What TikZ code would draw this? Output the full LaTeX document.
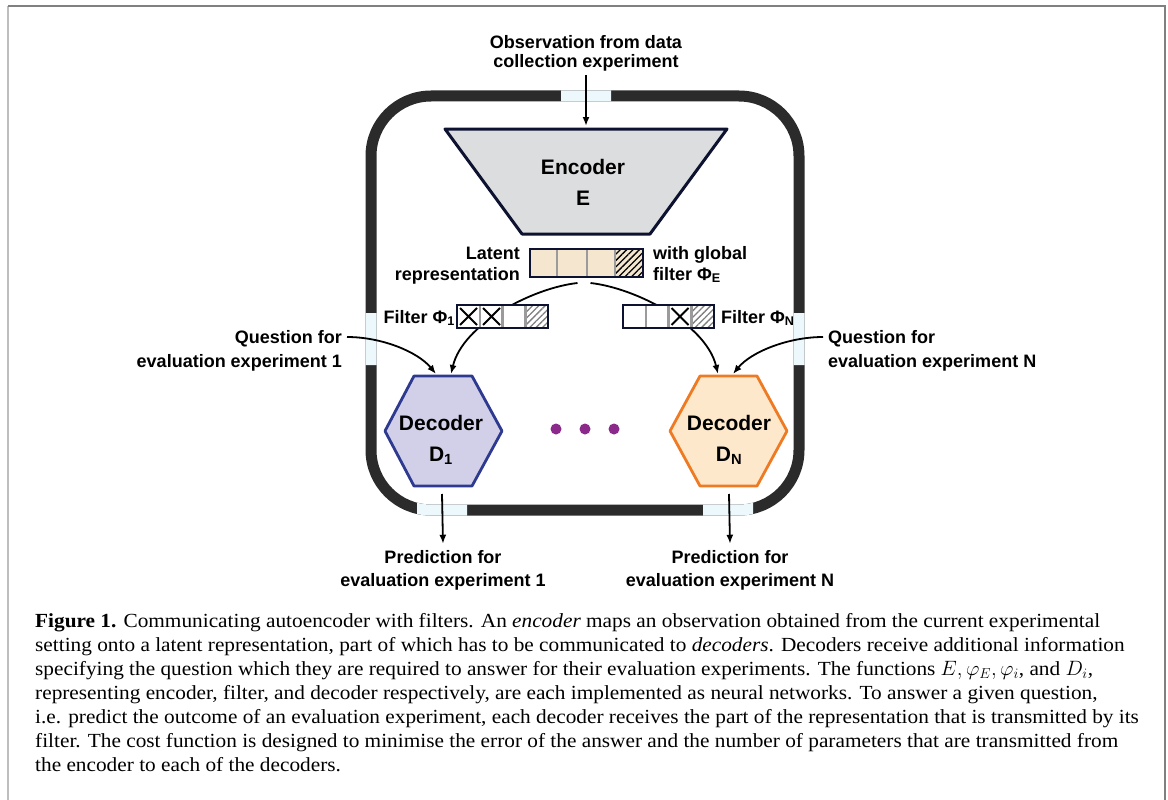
\documentclass[tikz,border=0pt]{standalone}
\usepackage{fontspec}
\setmainfont{Liberation Serif}[FakeStretch=1.065]
\newfontfamily\diafont{Liberation Sans}
\usetikzlibrary{arrows.meta,patterns.meta}

\definecolor{framegray}{RGB}{43,43,43}
\definecolor{gappale}{RGB}{236,248,252}
\definecolor{encfill}{RGB}{220,221,222}
\definecolor{navy}{RGB}{12,18,48}
\definecolor{latfill}{RGB}{245,230,208}
\definecolor{cellsep}{RGB}{155,155,155}
\definecolor{dAfill}{RGB}{209,208,232}
\definecolor{dAline}{RGB}{46,58,143}
\definecolor{dNfill}{RGB}{253,232,203}
\definecolor{dNline}{RGB}{238,123,35}
\definecolor{dotpurple}{RGB}{139,42,139}
\definecolor{pagegray}{RGB}{190,190,190}

\tikzset{
  lbl/.style={font=\diafont\bfseries\fontsize{18}{24}\selectfont, inner sep=0pt},
  big/.style={font=\diafont\bfseries\fontsize{21}{31}\selectfont, inner sep=0pt, align=center},
  arr/.style={-{Latex[length=9pt,width=7pt]}, line width=1.8pt},
  cellline/.style={cellsep, line width=2.5pt},
  cross/.style={line width=2pt, black},
  hatch/.style={pattern={Lines[angle=45,distance=4.5pt,line width=1.3pt]}, pattern color=#1},
  captxt/.style={font=\fontsize{20}{24}\selectfont, inner sep=0pt, anchor=base west},
}

\begin{document}
\begin{tikzpicture}[x=1pt,y=-1pt]
  \useasboundingbox (0,0) rectangle (1168,800);
  % page frame
  \draw[pagegray, line width=1.5pt] (8,800) -- (8,6);
  \draw[gray, line width=1.5pt] (8,6) -- (1165,6) -- (1165,800);

  % outer loop, with pale gaps where arrows cross
  \draw[framegray, line width=11pt, rounded corners=60pt] (371,96) rectangle (799,510);
  \begin{scope}
    \clip (561,80) rectangle (611,112)
          (355,313) rectangle (390,365)
          (785,313) rectangle (815,365)
          (417,480) rectangle (467,525)
          (703,480) rectangle (753,525);
    \draw[gappale, line width=11pt, rounded corners=60pt] (371,96) rectangle (799,510);
  \end{scope}

  % encoder
  \draw[navy, fill=encfill, line width=3pt, line join=round]
    (445,129) -- (727,129) -- (650,234) -- (522,234) -- cycle;
  \node[big, anchor=base] (enc) at (583,205) {Encoder\\E};
  \coordinate (encin) at (586,126);

  \node[lbl, anchor=base, align=center, font=\diafont\bfseries\fontsize{18}{19}\selectfont]
    (obs) at (586,67) {Observation from data\\collection experiment};
  \draw[arr] ([yshift=-4pt]obs.south) -- (encin);

  % latent representation
  \node[fill=latfill, minimum width=113pt, minimum height=28pt, inner sep=0pt, outer sep=0pt]
    (latent) at (586.5,263) {};
  \fill[hatch=black] (615,249) rectangle (643,277);
  \draw[cellline] (557,249) -- (557,277);
  \draw[cellline] (587,249) -- (587,277);
  \draw[cellline] (615,249) -- (615,277);
  \draw[navy, line width=2.5pt] (latent.north west) rectangle (latent.south east);
  \node[lbl, anchor=base east, align=right, font=\diafont\bfseries\fontsize{18}{21}\selectfont]
    (latlbl) at (520,280) {Latent\\representation};
  \node[lbl, anchor=base west, align=left, font=\diafont\bfseries\fontsize{18}{21}\selectfont]
    (glbl) at (653,280) {with global\\filter Φ\textsubscript{E}};

  % decoders
  \draw[dAline, fill=dAfill, line width=2.8pt, line join=round]
    (385,431) -- (414,376) -- (472,376) -- (502,431) -- (472,486) -- (414,486) -- cycle;
  \node[big, anchor=base] (dec1) at (441,461) {Decoder\\D\textsubscript{1}};
  \draw[dNline, fill=dNfill, line width=2.8pt, line join=round]
    (670,431) -- (700,376) -- (757,376) -- (787,431) -- (757,486) -- (700,486) -- cycle;
  \node[big, anchor=base] (decN) at (729,461) {Decoder\\D\textsubscript{N}};
  \coordinate (d1a) at (436,374);
  \coordinate (d1b) at (451,374);
  \coordinate (dNa) at (718,374);
  \coordinate (dNb) at (733,374);
  \coordinate (d1out) at (442,494);
  \coordinate (dNout) at (729,494);

  \fill[dotpurple] (556,429) circle (5.5pt);
  \fill[dotpurple] (585,429) circle (5.5pt);
  \fill[dotpurple] (614,429) circle (5.5pt);

  % questions
  \node[lbl, anchor=base east, align=right] (q1) at (342,367) {Question for\\evaluation experiment 1};
  \node[lbl, anchor=base west, align=left] (qN) at (828,367) {Question for\\evaluation experiment N};
  \draw[arr] ([shift={(5pt,30pt)}]q1.base east) .. controls +(35,0) and +(-18,-22) .. (d1a);
  \draw[arr] ([shift={(-5pt,30pt)}]qN.base west) .. controls +(-35,0) and +(18,-22) .. (dNb);

  % latent to decoders
  \draw[arr] ([xshift=-9pt,yshift=-6pt]latent.south) .. controls +(-45,5) and +(12,-50) .. (d1b);
  \draw[arr] ([xshift=4pt,yshift=-6pt]latent.south) .. controls +(45,5) and +(-12,-50) .. (dNa);

  % filters
  \node[fill=white, minimum width=91pt, minimum height=23pt, inner sep=0pt, outer sep=0pt]
    (filt1) at (502.5,316.5) {};
  \fill[hatch=gray] (525.25,305) rectangle (548,328);
  \draw[cellline] (479.75,305) -- (479.75,328);
  \draw[cellline] (502.5,305) -- (502.5,328);
  \draw[cellline] (525.25,305) -- (525.25,328);
  \draw[cross] (460,308) -- (477,325) (460,325) -- (477,308);
  \draw[cross] (483,308) -- (500,325) (483,325) -- (500,308);
  \draw[navy, line width=2pt] (filt1.north west) rectangle (filt1.south east);
  \node[lbl, anchor=base east] (f1lbl) at (455,323) {Filter Φ\textsubscript{1}};

  \node[fill=white, minimum width=91pt, minimum height=23pt, inner sep=0pt, outer sep=0pt]
    (filtN) at (668.5,316.5) {};
  \fill[hatch=gray] (691.25,305) rectangle (714,328);
  \draw[cellline] (645.75,305) -- (645.75,328);
  \draw[cellline] (668.5,305) -- (668.5,328);
  \draw[cellline] (691.25,305) -- (691.25,328);
  \draw[cross] (671.5,308) -- (688.5,325) (671.5,325) -- (688.5,308);
  \draw[navy, line width=2pt] (filtN.north west) rectangle (filtN.south east);
  \node[lbl, anchor=base west] (fNlbl) at (721,323) {Filter Φ\textsubscript{N}};

  % predictions
  \node[lbl, anchor=base, align=center, font=\diafont\bfseries\fontsize{18}{23}\selectfont]
    (pred1) at (443,586) {Prediction for\\evaluation experiment 1};
  \node[lbl, anchor=base, align=center, font=\diafont\bfseries\fontsize{18}{23}\selectfont]
    (predN) at (730,586) {Prediction for\\evaluation experiment N};
  \draw[arr] (d1out) -- ([yshift=6pt]pred1.north);
  \draw[arr] (dNout) -- ([yshift=6pt]predN.north);

  % caption
  \node[captxt] (c1) at (35,627) {\textbf{Figure 1.} Communicating autoencoder with filters. An \textit{encoder} maps an observation obtained from the current experimental};
  \node[captxt] (c2) at (35,651) {setting onto a latent representation, part of which has to be communicated to \textit{decoders}. Decoders receive additional information};
  \node[captxt] (c3) at (35,675) {specifying the question which they are required to answer for their evaluation experiments. The functions $E, \varphi_E, \varphi_i$, and $D_i$,};
  \node[captxt] (c4) at (35,699) {representing encoder, filter, and decoder respectively, are each implemented as neural networks. To answer a given question,};
  \node[captxt] (c5) at (35,723) {i.e. predict the outcome of an evaluation experiment, each decoder receives the part of the representation that is transmitted by its};
  \node[captxt] (c6) at (35,747) {filter. The cost function is designed to minimise the error of the answer and the number of parameters that are transmitted from};
  \node[captxt] (c7) at (35,771) {the encoder to each of the decoders.};
\end{tikzpicture}
\end{document}
